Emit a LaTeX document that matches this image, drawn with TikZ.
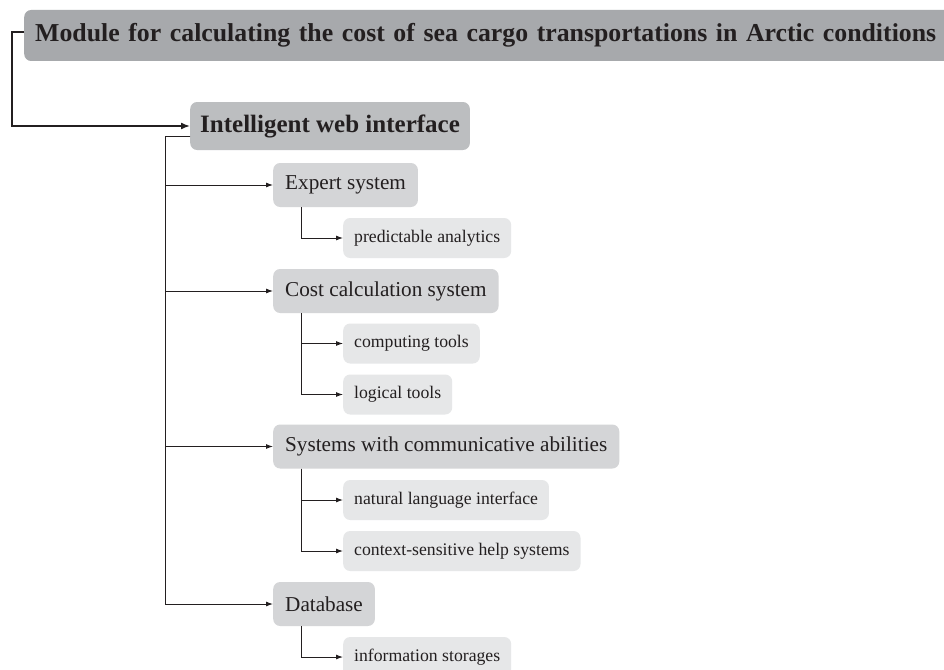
\documentclass[tikz,border=0pt]{standalone}
\usepackage{fontspec}
\setmainfont{Liberation Serif}
\usetikzlibrary{arrows.meta}
\setlength\parindent{0pt}
\definecolor{boxtop}{HTML}{A7A9AC}
\definecolor{boxone}{HTML}{BCBEC0}
\definecolor{boxtwo}{HTML}{D4D5D7}
\definecolor{boxthree}{HTML}{E6E7E8}
\definecolor{ink}{HTML}{231F20}

\begin{document}
\begin{tikzpicture}[x=1pt,y=1pt,
	every node/.style={text=ink,rounded corners=7pt,anchor=west},
	topbox/.style={fill=boxtop,minimum height=51pt,inner xsep=11pt,font=\fontsize{25.8}{30}\selectfont\bfseries,align=left,text width=940pt},
	onebox/.style={fill=boxone,minimum height=48pt,inner xsep=10pt,font=\fontsize{25}{29}\selectfont\bfseries},
	twobox/.style={fill=boxtwo,minimum height=44pt,inner xsep=12pt,font=\fontsize{21.2}{25}\selectfont},
	threebox/.style={fill=boxthree,minimum height=40pt,inner xsep=11pt,font=\fontsize{17.7}{21}\selectfont},
	thick link/.style={draw=ink,line width=1.6pt,-{Latex[length=9pt,width=7pt]}},
	thin link/.style={draw=ink,line width=0.9pt,-{Latex[length=7pt,width=5pt]}}]
	\useasboundingbox (0,0) rectangle (944,-669);
	\fill[white] (0,0) rectangle (944,-669);

	\node[topbox] (module) at (24,-35.5) {Module for calculating the cost of sea cargo transportations in Arctic conditions};
	\node[onebox] (web) at (190,-126) {Intelligent web interface};

	\node[twobox] (expert) at (273,-185) {Expert system};
	\node[threebox] (predict) at (343,-238) {predictable analytics};
	\node[twobox] (cost) at (273,-291) {Cost calculation system};
	\node[threebox] (compute) at (343,-343.5) {computing tools};
	\node[threebox] (logic) at (343,-394.5) {logical tools};
	\node[twobox] (comm) at (273,-446.5) {Systems with communicative abilities};
	\node[threebox] (natural) at (343,-500) {natural language interface};
	\node[threebox] (help) at (343,-551) {context-sensitive help systems};
	\node[twobox] (data) at (273,-604) {Database};
	\node[threebox] (store) at (343,-657) {information storages};

	% main branch
	\coordinate (topbend) at (12,-32);
	\draw[thick link] (module.west |- topbend) -- (topbend) |- (web.west);
	\coordinate (trunk) at (165,-136);
	\foreach \child in {expert,cost,comm,data}
		\draw[thin link] (web.west |- trunk) -- (trunk) |- (\child.west);

	% sub branches
	\draw[thin link] ([xshift=28pt]expert.south west) |- (predict.west);
	\foreach \leaf in {compute,logic}
		\draw[thin link] ([xshift=28pt]cost.south west) |- (\leaf.west);
	\foreach \leaf in {natural,help}
		\draw[thin link] ([xshift=28pt]comm.south west) |- (\leaf.west);
	\draw[thin link] ([xshift=28pt]data.south west) |- (store.west);
\end{tikzpicture}
\end{document}
